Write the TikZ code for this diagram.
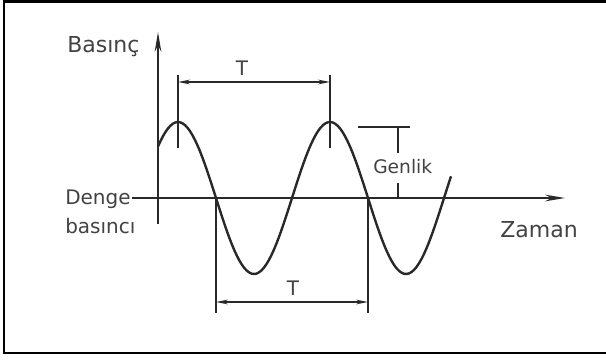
\documentclass[tikz,border=0pt]{standalone}
\usepackage{fontspec}
\setmainfont{DejaVu Sans}
\usetikzlibrary{positioning,arrows.meta}
\definecolor{ink}{gray}{0.16}
\definecolor{txt}{gray}{0.26}

\begin{document}
\begin{tikzpicture}[
    x=0.75pt,y=-0.75pt,
    >={Stealth[length=9pt,width=3.5pt]},
    every node/.style={font=\fontsize{15}{18}\selectfont,text=txt,inner sep=0pt},
    big/.style={font=\fontsize{16.5}{19}\selectfont},
    axis/.style={draw=ink,line width=1.4pt,-{Stealth[length=15pt,width=5pt]}},
    wave/.style={draw=ink,line width=1.8pt},
    ext/.style={draw=ink,line width=1pt},
    dim/.style={draw=ink,line width=1pt,<->},
    frm/.style={draw=black,line width=2pt}
  ]
  \useasboundingbox (0,0) rectangle (606,360);
  % frame
  \draw[frm] (606,1.5) -- (4,1.5) -- (4,353) -- (606,353);
  % axes and their labels
  \coordinate (o) at (158,198);
  \coordinate (ybot) at (158,224);
  \coordinate (ytip) at (158,32);
  \coordinate (xtip) at (565,198);
  \node[big,anchor=base west] (basinc) at (67,53) {Basınç};
  \node[anchor=base west] (denge) at (65,204) {Denge};
  \node[anchor=base west] (basinci) at (65,233) {basıncı};
  \node[big,anchor=base east] (zaman) at (578,237) {Zaman};
  \draw[axis] (ybot) -- (ytip);
  \draw[axis] ([xshift=1pt]denge.east |- o) -- (xtip);
  % pressure wave
  \draw[wave] plot[domain=158:451,samples=120] (\x,{198-76*cos(2.3684*(\x-178))});
  % period between the two peaks
  \coordinate (t1a) at (178,75);
  \coordinate (t1b) at (178,148);
  \coordinate (t2a) at (330,75);
  \coordinate (t2b) at (330,148);
  \coordinate (d1) at (178,82);
  \coordinate (d2) at (330,82);
  \draw[ext] (t1a) -- (t1b);
  \draw[ext] (t2a) -- (t2b);
  \draw[dim] (d1) -- (d2);
  \node[anchor=base] (ttop) at (242,75) {T};
  % period between two crossings
  \coordinate (b1a) at (216,198);
  \coordinate (b1b) at (216,313);
  \coordinate (b2a) at (368,198);
  \coordinate (b2b) at (368,313);
  \coordinate (e1) at (216,302);
  \coordinate (e2) at (368,302);
  \draw[ext] (b1a) -- (b1b);
  \draw[ext] (b2a) -- (b2b);
  \draw[dim] (e1) -- (e2);
  \node[anchor=base] (tbot) at (293,295) {T};
  % amplitude
  \coordinate (g1) at (358,127);
  \coordinate (g2) at (410,127);
  \coordinate (gtop) at (398,127);
  \coordinate (gbot) at (398,198);
  \node[anchor=base west,font=\fontsize{14}{16}\selectfont] (genlik) at (373,173) {Genlik};
  \draw[ext] (g1) -- (g2);
  \draw[ext,shorten >=4pt] (gtop) -- (gtop |- genlik.north);
  \draw[ext,shorten <=7pt] (gtop |- genlik.south) -- (gbot);
\end{tikzpicture}
\end{document}
